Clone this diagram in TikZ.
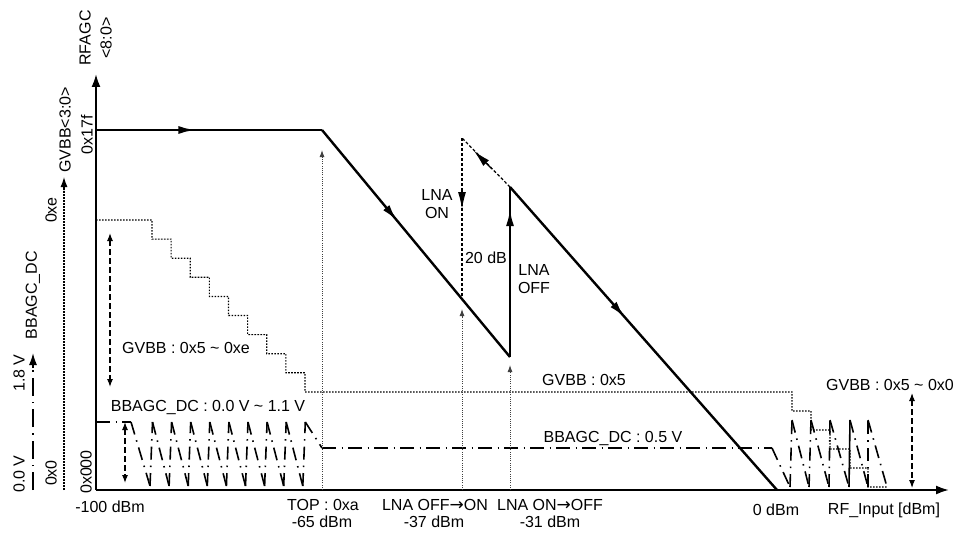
\documentclass[tikz,border=0pt]{standalone}
\usepackage{fontspec}
\setmainfont{Liberation Sans}
\newfontfamily\arrowfont{DejaVu Sans}
\usetikzlibrary{arrows.meta,decorations.markings}
\newcommand{\rarr}{{\arrowfont\fontsize{17}{18}\selectfont →}}
\begin{document}
\begin{tikzpicture}[x=1pt,y=-1pt,
  every node/.style={font=\fontsize{16}{18.5}\selectfont, inner sep=0pt, align=center},
  axisline/.style={line width=2pt, -{Latex[length=13pt,width=9pt]}},
  curve/.style={line width=2.4pt, line join=miter},
  midarrow/.style={postaction={decorate, decoration={markings, mark=at position #1 with {\arrow{Latex[length=17pt,width=8pt]}}}}},
  hyst/.style={line width=1.2pt, dash pattern=on 3pt off 2pt},
  marker/.style={line width=0.9pt, dash pattern=on 1pt off 1.2pt, black!75, -{Latex[length=7pt,width=5pt]}},
  stair/.style={line width=1.2pt, dash pattern=on 1.6pt off 1.4pt},
  dashdot/.style={line width=1.5pt, dash pattern=on 14pt off 5.5pt on 1.5pt off 5pt},
  saw/.style={line width=1.6pt, dash pattern=on 13pt off 6pt on 1.5pt off 6pt},
  span/.style={line width=1.1pt, dash pattern=on 6pt off 3pt, {Latex[length=8pt,width=6pt]}-{Latex[length=8pt,width=6pt]}}
]
\useasboundingbox (0,0) rectangle (957,532);

% --- coordinates
\coordinate (O) at (96,490);
\coordinate (ytop) at (96,74);
\coordinate (xend) at (949,490);
\coordinate (r0) at (96,130);
\coordinate (top) at (322,130);
\coordinate (lnaoffL) at (510,357);
\coordinate (lnaoffH) at (510,187);
\coordinate (zero) at (777,490);
\coordinate (onTop) at (462,138);
\coordinate (onLow) at (462,297);

% --- left auxiliary axes
\draw[line width=1.2pt, dash pattern=on 1.6pt off 1.4pt] (64,490) -- (64,190);
\draw[-{Latex[length=10pt,width=7pt]}, line width=1.2pt] (64,190) -- (64,177);
\draw[line width=1.5pt, dash pattern=on 18pt off 6pt on 1.5pt off 6pt] (33,490) -- (33,368);
\draw[-{Latex[length=12pt,width=8pt]}, line width=1.5pt] (33,368) -- (33,353);

% --- GVBB staircase
\draw[stair] (96,220)
  \foreach \i in {0,...,8} { -- ({152+19.125*\i},{220+19.1*\i}) -- ({152+19.125*\i},{239.1+19.1*\i}) }
  -- (792,392) -- (792,411) -- (811,411) -- (811,430) -- (830,430) -- (830,449)
  -- (850,449) -- (850,468) -- (868,468) -- (868,487) -- (887,487);

% --- BBAGC sawtooth (left)
\draw[dashdot] (96,422) -- (131,422);
\draw[saw] (131,422) -- (150,486);
\foreach \i in {0,...,8} {
  \draw[saw] ({150+19.1*\i},486) -- ({152.5+19.1*\i},422);
}
\foreach \i in {0,...,7} {
  \draw[saw] ({152.5+19.1*\i},422) -- ({150+19.1*(\i+1)},486);
}
\draw[saw] (305.3,422) -- (322,448);
\draw[dashdot] (322,448) -- (772,448);

% --- BBAGC sawtooth (right)
\draw[saw] (772,448) -- (790,487);
\foreach \v/\p in {790/792, 809/811, 829/830, 868/868} {
  \draw[saw] (\v,487) -- (\p,420);
}
\draw[line width=1.6pt] (849,487) -- (850,420);
\foreach \p/\v in {792/809, 811/829, 830/849, 850/868, 868/887} {
  \draw[saw] (\p,420) -- (\v,487);
}

% --- main axes
\draw[axisline] (O) -- (ytop);
\draw[axisline] (O) -- (xend);

% --- marker arrows
\draw[marker] (322,490) -- (322,150);
\draw[marker] (462,490) -- (462,309);
\draw[marker] (510,490) -- (510,365);

% --- RFAGC curve
\draw[curve, midarrow=0.44] (r0) -- (top);
\draw[curve, midarrow=0.40] (top) -- (lnaoffL);
\draw[curve, midarrow=0.87] (lnaoffL) -- (lnaoffH);
\draw[curve, midarrow=0.43] (lnaoffH) -- (zero);

% --- LNA ON hysteresis (dashed)
\draw[hyst] (lnaoffH) -- (onTop);
\draw[-{Latex[length=17pt,width=8pt]}, line width=1.2pt] (492,169) -- (474,151);
\draw[hyst] (onTop) -- (onLow);
\draw[-{Latex[length=17pt,width=8pt]}, line width=1.2pt] (462,190) -- (462,209);

% --- span arrows
\draw[span] (110,233) -- (110,387);
\draw[span] (125,422) -- (125,483);
\draw[span] (912,393) -- (912,488);

% --- rotated axis labels
\node[rotate=90] (lRF) at (85,38) {RFAGC};
\node[rotate=90] (lRFb) at (106,38) {<8:0>};
\node[rotate=90] (l17f) at (87,135) {0x17f};
\node[rotate=90] (lGV) at (65,130) {GVBB<3:0>};
\node[rotate=90] (lxe) at (51,210) {0xe};
\node[rotate=90] (lBB) at (33,295) {BBAGC\_DC};
\node[rotate=90] (l18) at (19,373) {1.8 V};
\node[rotate=90] (l00) at (19,474) {0.0 V};
\node[rotate=90] (lx0) at (51,473) {0x0};
\node[rotate=90] (lx000) at (86,472) {0x000};

% --- in-plot labels
\node (tGVl) at (186,348) {GVBB : 0x5 \textasciitilde{} 0xe};
\node (tBBl) at (208,407) {BBAGC\_DC : 0.0 V \textasciitilde{} 1.1 V};
\node (tGV5) at (584,380) {GVBB : 0x5};
\node (tBB5) at (613,438) {BBAGC\_DC : 0.5 V};
\node (tGVr) at (890,385) {GVBB : 0x5 \textasciitilde{} 0x0};
\node (tON) at (437,204) {LNA\\ON};
\node (t20) at (486,258) {20 dB};
\node (tOFF) at (534,279) {LNA\\OFF};

% --- x axis labels
\node (x100) at (110,507) {-100 dBm};
\node (xtop) at (323,505) {TOP : 0xa};
\node (x65) at (322,522) {-65 dBm};
\node (xon) at (435,505) {LNA OFF\rarr ON};
\node (x37) at (434,522) {-37 dBm};
\node (xoff) at (550,505) {LNA ON\rarr OFF};
\node (x31) at (550,522) {-31 dBm};
\node (x0) at (776,510) {0 dBm};
\node (xrf) at (884,510) {RF\_Input [dBm]};
\end{tikzpicture}
\end{document}
